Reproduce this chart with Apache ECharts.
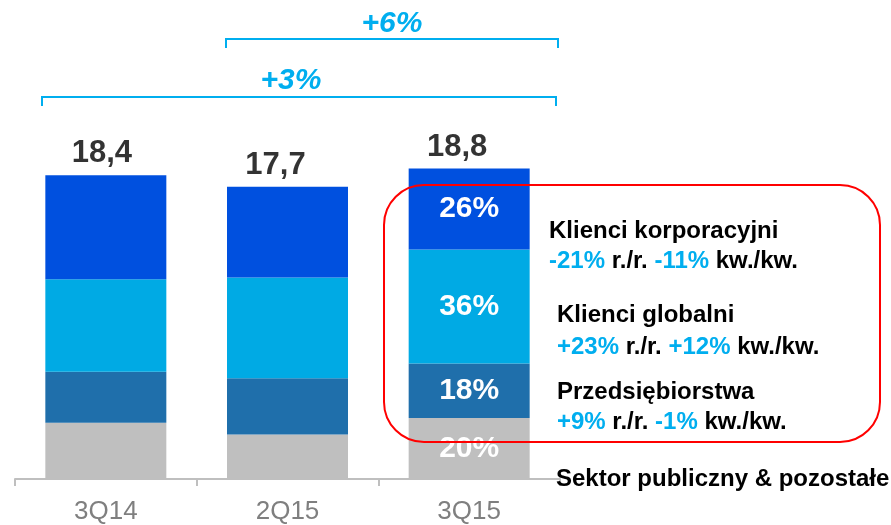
<!DOCTYPE html>
<html>
<head>
<meta charset="utf-8">
<title>Struktura przychodów</title>
<script src="https://cdn.jsdelivr.net/npm/echarts@6/dist/echarts.min.js"></script>
<style>
  html, body { margin: 0; padding: 0; background: #fff; }
  #chart { width: 891px; height: 525px; }
</style>
</head>
<body>
<div id="chart"></div>
<script>
// values (mld zł), stacked bottom -> top
var categories = ['3Q14', '2Q15', '3Q15'];
var sektorPubliczny = [3.4, 2.7, 3.7];
var przedsiebiorstwa = [3.1, 3.4, 3.3];
var klienciGlobalni = [5.6, 6.1, 6.9];
var klienciKorporacyjni = [6.3, 5.5, 4.9];
var totals = [18.4, 17.7, 18.8];
var shares3Q15 = ['20%', '18%', '36%', '26%']; // same order as the stack

(function () {
  'use strict';

  var FONT = '"Liberation Sans", Arial, sans-serif';
  var CYAN_TXT = '#00AEEF';
  var chart = echarts.init(document.getElementById('chart'));

  var stack = [
    { name: 'Sektor publiczny & pozostałe', data: sektorPubliczny, color: '#BFBFBF' },
    { name: 'Przedsiębiorstwa', data: przedsiebiorstwa, color: '#1F6FAB' },
    { name: 'Klienci globalni', data: klienciGlobalni, color: '#00AAE4' },
    { name: 'Klienci korporacyjni', data: klienciKorporacyjni, color: '#0050DF' }
  ];

  var series = stack.map(function (s, si) {
    return {
      name: s.name,
      type: 'bar',
      stack: 'total',
      barWidth: 121,
      itemStyle: { color: s.color },
      label: { show: false },
      data: s.data.map(function (v, i) {
        if (i !== 2) return v;
        return {
          value: v,
          label: {
            show: true, position: 'inside', formatter: shares3Q15[si],
            color: '#fff', fontFamily: FONT, fontWeight: 'bold', fontSize: 30
          }
        };
      })
    };
  });

  var totalOffsets = [-4, -12, -12];
  series.push({
    name: 'Razem',
    type: 'scatter',
    symbolSize: 0,
    silent: true,
    z: 5,
    label: {
      show: true, position: 'top', distance: 6,
      formatter: function (p) { return p.value.toFixed(1).replace('.', ','); },
      color: '#000', fontFamily: FONT, fontWeight: 'bold', fontSize: 31
    },
    data: totals.map(function (v, i) {
      return { value: v, label: { offset: [totalOffsets[i], 0] } };
    })
  });

  function line(x, baseline, text, size) {
    return {
      type: 'text', x: x, y: baseline - size * 0.36, z: 20,
      style: {
        text: text, verticalAlign: 'middle', align: 'left',
        font: 'bold ' + size + 'px ' + FONT, fill: '#000',
        rich: {
          c: { fill: CYAN_TXT, font: 'bold ' + size + 'px ' + FONT },
          k: { fill: '#000', font: 'bold ' + size + 'px ' + FONT }
        }
      }
    };
  }

  var graphics = [
    // brackets with growth figures
    { type: 'polyline', z: 10, shape: { points: [[226, 48], [226, 39], [558, 39], [558, 48]] },
      style: { stroke: CYAN_TXT, lineWidth: 2, fill: null } },
    { type: 'polyline', z: 10, shape: { points: [[42, 106], [42, 97], [556, 97], [556, 106]] },
      style: { stroke: CYAN_TXT, lineWidth: 2, fill: null } },
    { type: 'text', x: 392, y: 24, z: 10,
      style: { text: '+6%', align: 'center', verticalAlign: 'middle', fill: CYAN_TXT,
        font: 'italic bold 30px ' + FONT } },
    { type: 'text', x: 291, y: 81, z: 10,
      style: { text: '+3%', align: 'center', verticalAlign: 'middle', fill: CYAN_TXT,
        font: 'italic bold 30px ' + FONT } },
    // red highlight box
    { type: 'rect', z: 30, shape: { x: 384, y: 185, width: 496, height: 257, r: 40 },
      style: { stroke: '#FF0000', lineWidth: 2, fill: null } },
    line(549, 240, 'Klienci korporacyjni', 24),
    line(549, 270, '{c|-21%} {k|r./r.} {c|-11%} {k|kw./kw.}', 24),
    line(557, 324, 'Klienci globalni', 24),
    line(557, 356, '{c|+23%} {k|r./r.} {c|+12%} {k|kw./kw.}', 24),
    line(557, 401, 'Przedsiębiorstwa', 24),
    line(557, 431, '{c|+9%} {k|r./r.} {c|-1%} {k|kw./kw.}', 24),
    line(556, 488, 'Sektor publiczny & pozostałe', 24)
  ];

  chart.setOption({
    animation: false,
    grid: { left: 15, right: 331, top: 148.8, bottom: 44 },
    xAxis: {
      type: 'category',
      data: categories,
      axisLine: { lineStyle: { color: '#BFBFBF', width: 2 } },
      axisTick: { show: true, length: 7, lineStyle: { color: '#BFBFBF', width: 2 } },
      axisLabel: { color: '#7F7F7F', fontFamily: FONT, fontSize: 26, margin: 20 }
    },
    yAxis: { type: 'value', min: 0, max: 20, show: false, splitLine: { show: false } },
    series: series,
    graphic: graphics
  });

  window.addEventListener('resize', function () { chart.resize(); });
})();
</script>
</body>
</html>
